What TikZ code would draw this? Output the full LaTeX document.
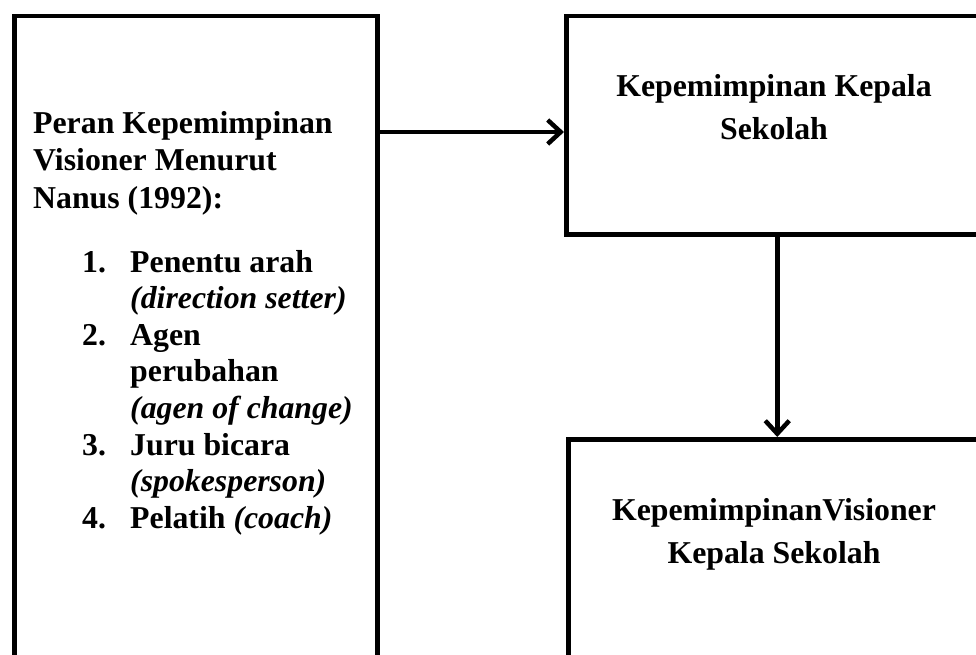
\documentclass[tikz,border=0pt]{standalone}
\usepackage{fontspec}
\setmainfont{Liberation Serif}
\usetikzlibrary{arrows.meta}
\begin{document}
\begin{tikzpicture}[x=1pt, y=-1pt,
  frame/.style={draw=black, line width=4.5pt, fill=white, rectangle,
    anchor=north west, inner sep=0pt},
  txt/.style={inner sep=0pt, font=\fontsize{31.8}{37}\selectfont\bfseries},
  lefttxt/.style={txt, anchor=base west},
  midtxt/.style={txt, anchor=base},
  conn/.style={draw=black, line width=4.5pt,
    -{Straight Barb[length=13pt, width=24pt, line width=4.5pt]}}
]
\useasboundingbox (0,0) rectangle (976,655);

% boxes
\node[frame, minimum width=363pt, minimum height=643pt] (peran) at (12,14) {};
\node[frame, minimum width=422pt, minimum height=218pt] (kks) at (564,14) {};
\node[frame, minimum width=418pt, minimum height=220pt] (kvk) at (566,437) {};

% left box: heading
\node[lefttxt] (h1) at (33,134) {Peran Kepemimpinan};
\node[lefttxt] (h2) at (33,171) {Visioner Menurut};
\node[lefttxt] (h3) at (33,208) {Nanus (1992):};

% left box: numbered list
\node[lefttxt] (n1) at (82,272)   {1.};
\node[lefttxt] (l1) at (130,272)  {Penentu arah};
\node[lefttxt] (l2) at (130,308.6) {\itshape (direction setter)};
\node[lefttxt] (n2) at (82,345.2) {2.};
\node[lefttxt] (l3) at (130,345.2) {Agen};
\node[lefttxt] (l4) at (130,381.8) {perubahan};
\node[lefttxt] (l5) at (130,418.4) {\itshape (agen of change)};
\node[lefttxt] (n3) at (82,455)   {3.};
\node[lefttxt] (l6) at (130,455)  {Juru bicara};
\node[lefttxt] (l7) at (130,491.6) {\itshape (spokesperson)};
\node[lefttxt] (n4) at (82,528.2) {4.};
\node[lefttxt] (l8) at (130,528.2) {Pelatih \textit{(coach)}};

% right boxes: labels
\node[midtxt] (k1) at (774,97)  {Kepemimpinan Kepala};
\node[midtxt] (k2) at (774,140) {Sekolah};
\node[midtxt] (v1) at (774,520) {KepemimpinanVisioner};
\node[midtxt] (v2) at (774,563) {Kepala Sekolah};

% connectors
\coordinate (armA) at (375,132);
\draw[conn] (armA) -- (kks.west |- armA);
\draw[conn] (kks.south) -- (kvk.north);
\end{tikzpicture}
\end{document}
